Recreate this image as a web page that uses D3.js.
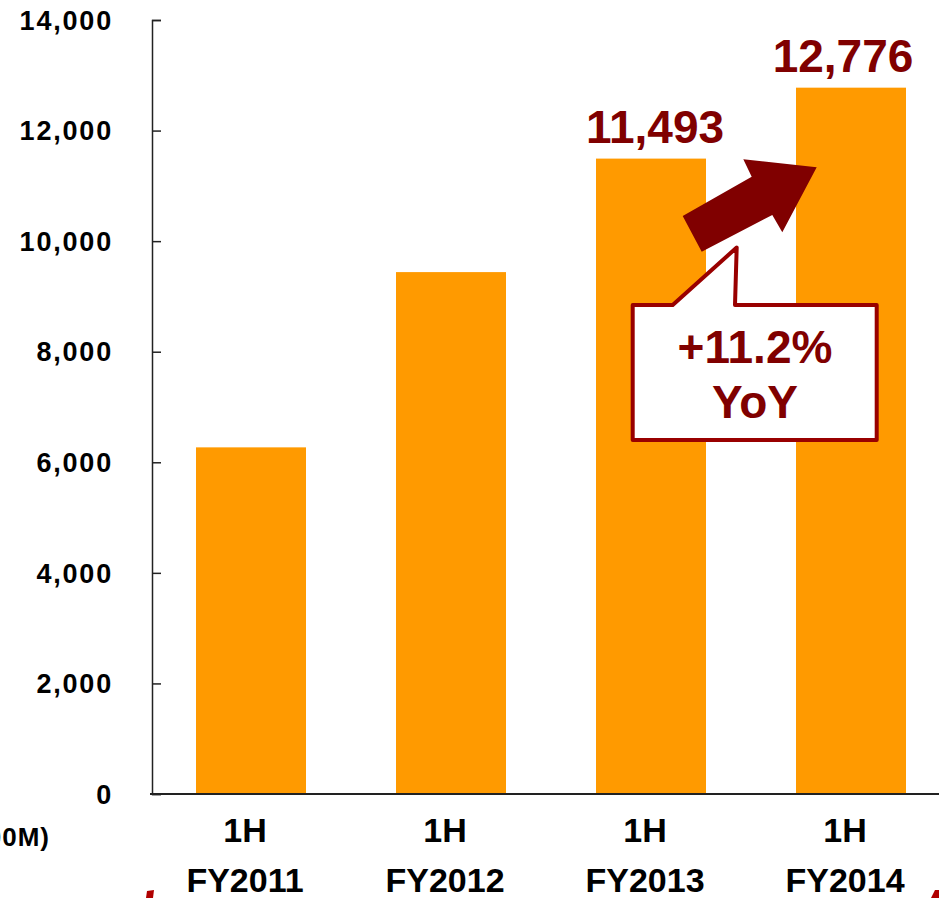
<!DOCTYPE html>
<html>
<head>
<meta charset="utf-8">
<script src="https://cdn.jsdelivr.net/npm/d3@7"></script>
<style>
  body { margin: 0; background: #fff; }
  svg text { font-family: Arial, "Liberation Sans", sans-serif; font-weight: bold; }
</style>
</head>
<body>
<svg id="chart" width="939" height="898"></svg>
<script>
// chart data
var periods = ["1H", "1H", "1H", "1H"];
var years = ["FY2011", "FY2012", "FY2013", "FY2014"];
var sales = [6270, 9440, 11493, 12776];
var yTicks = [0, 2000, 4000, 6000, 8000, 10000, 12000, 14000];
var labelled = ["FY2013", "FY2014"];
var growthText = ["+11.2%", "YoY"];
var unitText = "(¥100M)";

var svg = d3.select("#chart"),
    width = +svg.attr("width"),
    height = +svg.attr("height");

var orange = "#ff9a00",
    maroon = "#800000",
    boxRed = "#990000";

var x = d3.scaleBand()
    .domain(years)
    .range([151, 951])
    .paddingInner(0.45)
    .paddingOuter(0.225);

var y = d3.scaleLinear()
    .domain([0, 14000])
    .range([794, 20]);

// bars
svg.selectAll("rect.bar")
    .data(sales)
    .enter().append("rect")
    .attr("class", "bar")
    .attr("x", function (d, i) { return x(years[i]); })
    .attr("y", function (d) { return y(d); })
    .attr("width", x.bandwidth())
    .attr("height", function (d) { return y(0) - y(d); })
    .style("fill", orange);

// y axis, ticks pointing inward
var yAxis = svg.append("g")
    .attr("transform", "translate(152,0)")
    .call(d3.axisRight(y).tickValues(yTicks).tickSize(9).tickFormat(""));
yAxis.select(".domain").attr("stroke", "#222").attr("stroke-width", 1.5);
yAxis.selectAll(".tick line").attr("stroke", "#222").attr("stroke-width", 1.5);

svg.selectAll("text.ytick")
    .data(yTicks)
    .enter().append("text")
    .attr("class", "ytick")
    .attr("x", 113)
    .attr("y", function (d) { return y(d); })
    .attr("dy", "0.36em")
    .attr("text-anchor", "end")
    .style("font-size", "27px")
    .style("letter-spacing", "1.8px")
    .text(function (d) { return d3.format(",")(d); });

// x axis line
svg.append("line")
    .attr("x1", 150).attr("x2", width)
    .attr("y1", y(0)).attr("y2", y(0))
    .attr("stroke", "#222")
    .attr("stroke-width", 2.2);

var cat = svg.selectAll("g.cat")
    .data(years)
    .enter().append("g")
    .attr("class", "cat")
    .attr("transform", function (d) { return "translate(" + (x(d) + x.bandwidth() / 2 - 6) + ",0)"; });
cat.append("text")
    .attr("y", 842)
    .attr("text-anchor", "middle")
    .style("font-size", "34px")
    .text(function (d, i) { return periods[i]; });
cat.append("text")
    .attr("y", 892)
    .attr("text-anchor", "middle")
    .style("font-size", "34px")
    .text(function (d) { return d; });

// unit label, cut by the left edge as in the slide
svg.append("text")
    .attr("x", 50)
    .attr("y", 846)
    .attr("text-anchor", "end")
    .style("font-size", "26px")
    .style("letter-spacing", "1px")
    .text(unitText);

// value labels on the last two bars
svg.selectAll("text.value")
    .data(labelled)
    .enter().append("text")
    .attr("class", "value")
    .attr("x", function (d, i) { return x(d) + x.bandwidth() / 2 + (i === 0 ? 4 : -8); })
    .attr("y", function (d) { return y(sales[years.indexOf(d)]) - 16; })
    .attr("text-anchor", "middle")
    .style("font-size", "46px")
    .style("fill", maroon)
    .text(function (d) { return d3.format(",")(sales[years.indexOf(d)]); });

// growth arrow
svg.append("path")
    .attr("d", "M682.7,216 L751.7,176.7 L743.3,159.3 L816.7,167.3 L782.3,232.3 L772.3,215 L701.7,251.7 Z")
    .style("fill", maroon);

// callout box
svg.append("path")
    .attr("d", "M632.7,305 L672.7,305 L736.7,247.5 L735,305 L876.7,305 L876.7,440 L632.7,440 Z")
    .style("fill", "#fff")
    .style("stroke", boxRed)
    .style("stroke-width", 4)
    .style("stroke-linejoin", "round");

svg.selectAll("text.growth")
    .data(growthText)
    .enter().append("text")
    .attr("class", "growth")
    .attr("x", 755)
    .attr("y", function (d, i) { return 363 + i * 55; })
    .attr("text-anchor", "middle")
    .style("font-size", "46px")
    .style("fill", maroon)
    .text(function (d) { return d; });

// red bracket ends peeking at the bottom
svg.append("path")
    .attr("d", "M147,891 L154,890 L153,898 L146,898 Z M931,898 L935,890 L939,890 L939,898 Z")
    .style("fill", "#b00000");
</script>
</body>
</html>
